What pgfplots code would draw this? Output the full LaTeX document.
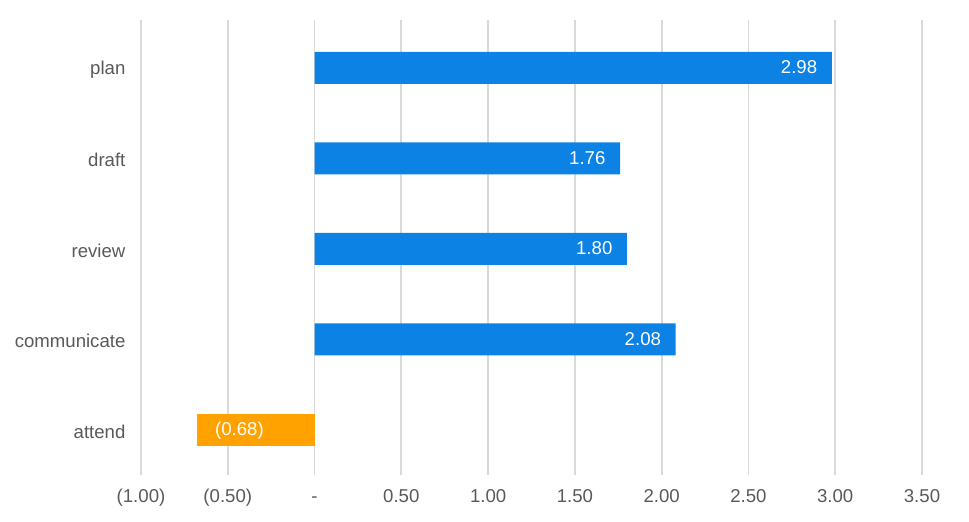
\documentclass[border=0pt]{standalone}
\usepackage{pgfplots}
\pgfplotsset{compat=1.18}
\usepackage{fontspec}
\setmainfont{Liberation Sans}
\definecolor{barblue}{RGB}{11,130,228}
\definecolor{barorange}{RGB}{255,162,0}
\definecolor{txtgray}{RGB}{89,89,89}
\definecolor{gridgray}{RGB}{217,217,217}
\begin{document}
\fontsize{9.3}{11}\selectfont
\begin{tikzpicture}
\begin{axis}[
  scale only axis,
  width=390.5pt, height=227.5pt,
  xmin=-1, xmax=3.5,
  ymin=-0.5, ymax=4.53,
  axis line style={draw=none},
  major tick length=0pt,
  xtick={-1,-0.5,0,0.5,1,1.5,2,2.5,3,3.5},
  xticklabels={(1.00),(0.50),-,0.50,1.00,1.50,2.00,2.50,3.00,3.50},
  ytick={0,1,2,3,4},
  yticklabels={attend,communicate,review,draft,plan},
  xmajorgrids,
  grid style={gridgray, line width=0.9pt},
  ticklabel style={font=\fontsize{9.3}{11}\selectfont, text=txtgray},
  xticklabel style={anchor=base, yshift=-13.5pt},
  yticklabel style={xshift=-4.5pt, yshift=-0.8pt},
  /pgf/number format/assume math mode=true,
  /pgf/number format/fixed,
  /pgf/number format/zerofill,
  /pgf/number format/precision=2,
  xbar, bar shift=0pt, bar width=16pt,
  nodes near coords,
  nodes near coords style={font=\fontsize{9.3}{11}\selectfont, text=white,
    text height=1.6ex, text depth=0.4ex},
]
\addplot[fill=barblue, draw=none,
  nodes near coords style={anchor=east, xshift=-4pt}]
  coordinates {(2.08,1) (1.80,2) (1.76,3) (2.98,4)};
\addplot[fill=barorange, draw=none,
  point meta={abs(x)},
  nodes near coords={(\pgfmathprintnumber{\pgfplotspointmeta})},
  nodes near coords style={anchor=west, xshift=6pt}]
  coordinates {(-0.68,0)};
\end{axis}
\pgfresetboundingbox
\path[use as bounding box] (-70.5pt,-23pt) rectangle (414pt,237.5pt);
\end{tikzpicture}
\end{document}
